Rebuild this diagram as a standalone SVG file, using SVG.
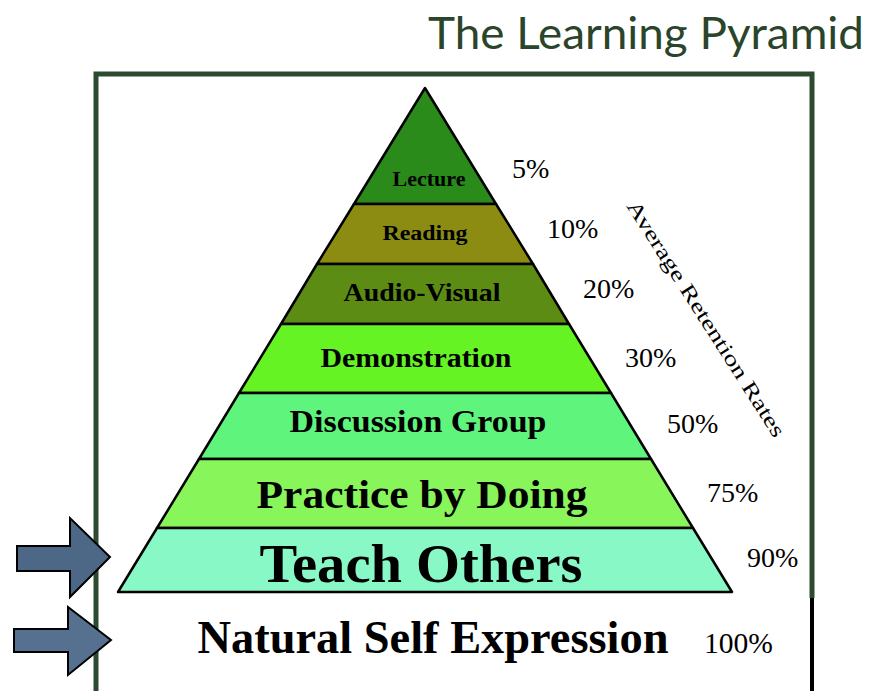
<svg xmlns="http://www.w3.org/2000/svg" width="873" height="691" viewBox="0 0 873 691">
<defs>
<style>
.band{stroke:#000;stroke-width:2.5;stroke-linejoin:round}
.lbl{font-family:"Liberation Serif","Times New Roman",serif;font-weight:bold;fill:#000;text-anchor:middle}
.pct{font-family:"Liberation Serif","Times New Roman",serif;font-size:28px;fill:#000}
.arrow{stroke:#000;stroke-width:2;stroke-linejoin:miter}
.frame{fill:none;stroke:#2b4a2f;stroke-width:5}
</style>
</defs>
<rect width="873" height="691" fill="#fff"/>
<text id="title" x="428" y="49" font-family="Lato, 'Open Sans', sans-serif" font-size="44" fill="#2b452b" textLength="436" lengthAdjust="spacingAndGlyphs">The Learning Pyramid</text>
<g id="frame">
<polyline class="frame" points="96,691 96,74 812,74 812,598"/>
<line x1="812" y1="598" x2="812" y2="691" stroke="#000" stroke-width="4"/>
</g>
<g id="lecture">
<polygon class="band" fill="#2a8a1a" points="425,88 496,204 354,204"/>
<text class="lbl" x="429" y="186" font-size="20" textLength="73" lengthAdjust="spacingAndGlyphs">Lecture</text>
</g>
<g id="reading">
<polygon class="band" fill="#8c8c12" points="354,204 496,204 533,264 317,264"/>
<text class="lbl" x="425" y="240" font-size="20" textLength="85" lengthAdjust="spacingAndGlyphs">Reading</text>
</g>
<g id="audio-visual">
<polygon class="band" fill="#5c8c14" points="317,264 533,264 569,324 281,324"/>
<text class="lbl" x="422" y="301" font-size="25" textLength="157" lengthAdjust="spacingAndGlyphs">Audio-Visual</text>
</g>
<g id="demonstration">
<polygon class="band" fill="#66f324" points="281,324 569,324 611,393 239,393"/>
<text class="lbl" x="416" y="367" font-size="28" textLength="191" lengthAdjust="spacingAndGlyphs">Demonstration</text>
</g>
<g id="discussion">
<polygon class="band" fill="#5ff57c" points="239,393 611,393 651,459 199,459"/>
<text class="lbl" x="418" y="432" font-size="32" textLength="257" lengthAdjust="spacingAndGlyphs">Discussion Group</text>
</g>
<g id="practice">
<polygon class="band" fill="#88f55a" points="199,459 651,459 693,528 157,528"/>
<text class="lbl" x="422" y="508" font-size="41" textLength="331" lengthAdjust="spacingAndGlyphs">Practice by Doing</text>
</g>
<g id="teach">
<polygon class="band" fill="#88f8c6" points="157,528 693,528 732,592 118,592"/>
<text class="lbl" x="421" y="582" font-size="55" textLength="323" lengthAdjust="spacingAndGlyphs">Teach Others</text>
</g>
<g id="natural">
<text class="lbl" x="433" y="653" font-size="46" textLength="471" lengthAdjust="spacingAndGlyphs">Natural Self Expression</text>
<text x="704" y="653" font-family="'Liberation Serif','Times New Roman',serif" font-size="30" textLength="69" lengthAdjust="spacingAndGlyphs">100%</text>
</g>
<g id="percentages">
<text class="pct" x="512" y="178">5%</text>
<text class="pct" x="547" y="238">10%</text>
<text class="pct" x="583" y="298">20%</text>
<text class="pct" x="625" y="367">30%</text>
<text class="pct" x="667" y="433">50%</text>
<text class="pct" x="707" y="502">75%</text>
<text class="pct" x="747" y="567">90%</text>
</g>
<text id="axis-label" transform="translate(626,206) rotate(57.5)" font-family="'Liberation Serif','Times New Roman',serif" font-size="21" textLength="276" lengthAdjust="spacingAndGlyphs">Average Retention Rates</text>
<g id="arrows">
<polygon class="arrow" fill="#4d6787" points="17,546 70,546 70,518 110,557 70,597 70,571 17,571"/>
<polygon class="arrow" fill="#56708f" points="14,629 68,629 68,607 111,640 68,675 68,652 14,652"/>
</g>
</svg>
